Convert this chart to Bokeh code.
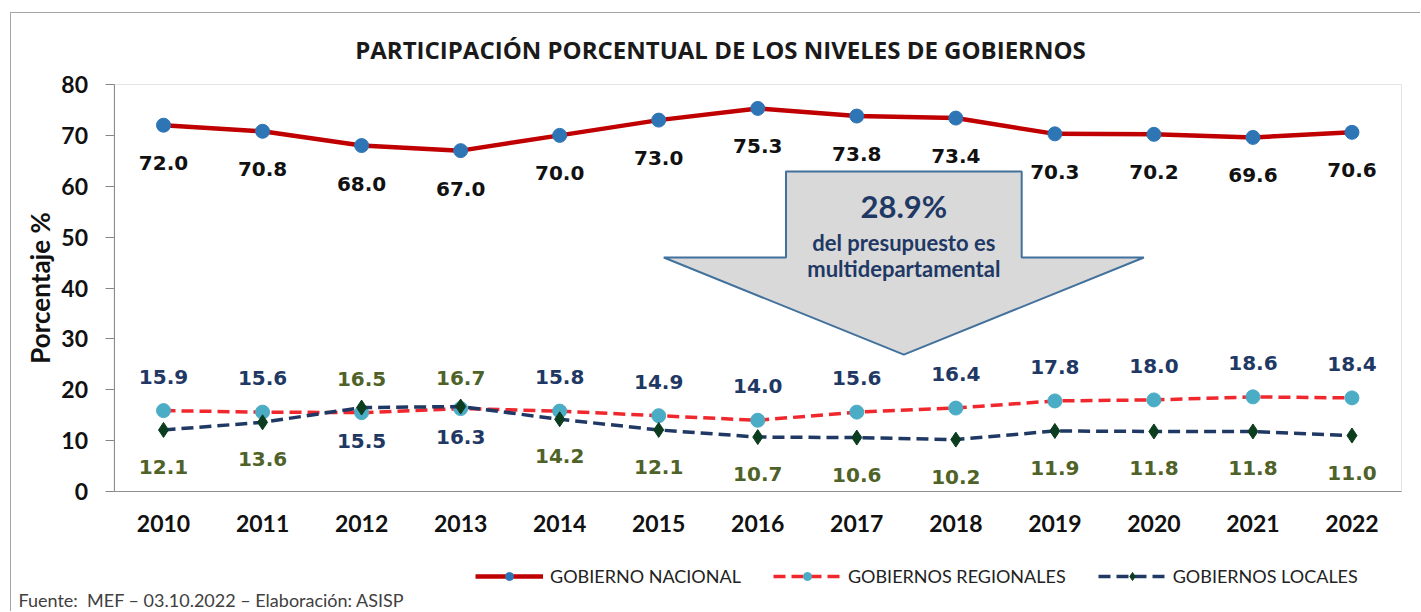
from bokeh.plotting import figure
from bokeh.models import Range1d, FixedTicker, Label, Legend, LegendItem, BoxAnnotation
from bokeh.core.properties import value
from bokeh.embed import file_html
from bokeh.resources import INLINE

# ---------------- data ----------------
years = ["2010", "2011", "2012", "2013", "2014", "2015", "2016",
         "2017", "2018", "2019", "2020", "2021", "2022"]
nacional = [72.0, 70.8, 68.0, 67.0, 70.0, 73.0, 75.3, 73.8, 73.4, 70.3, 70.2, 69.6, 70.6]
regionales = [15.9, 15.6, 15.5, 16.3, 15.8, 14.9, 14.0, 15.6, 16.4, 17.8, 18.0, 18.6, 18.4]
locales = [12.1, 13.6, 16.5, 16.7, 14.2, 12.1, 10.7, 10.6, 10.2, 11.9, 11.8, 11.8, 11.0]
series_names = ["GOBIERNO NACIONAL", "GOBIERNOS REGIONALES", "GOBIERNOS LOCALES"]
y_ticks = [0, 10, 20, 30, 40, 50, 60, 70, 80]
title_text = "PARTICIPACIÓN PORCENTUAL DE LOS NIVELES DE GOBIERNOS"
y_label = "Porcentaje %"
source_text = "Fuente:\u00a0 MEF \u2013 03.10.2022 \u2013 Elaboración: ASISP"
callout_value = "28.9%"
callout_lines = ["del presupuesto es", "multidepartamental"]

# ---------------- layout (pixels inside the canvas) ----------------
W, H = 1410, 599
PLOT_L, PLOT_R = 102.5, 1390.0      # plot-area left / right edge
PLOT_T, PLOT_B = 71.0, 478.0        # plot-area top / bottom edge
Y_MIN, Y_MAX = 0, 80
n = len(years)
X_MIN, X_MAX = -0.5, n - 0.5
px_x = (PLOT_R - PLOT_L) / (X_MAX - X_MIN)
px_y = (PLOT_B - PLOT_T) / (Y_MAX - Y_MIN)
x_range = Range1d(X_MIN - PLOT_L / px_x, X_MAX + (W - PLOT_R) / px_x)
y_range = Range1d(Y_MIN - (H - PLOT_B) / px_y, Y_MAX + PLOT_T / px_y)

def dx(px):  # canvas pixel -> data x
    return X_MIN + (px - PLOT_L) / px_x

def dy(py):  # canvas pixel -> data y
    return Y_MIN + (PLOT_B - py) / px_y

# ---------------- figure ----------------
x = list(range(n))
fmt = lambda v: f"{v:.1f}"

p = figure(width=W, height=H, x_range=x_range, y_range=y_range,
           output_backend="svg", toolbar_location=None, min_border=0)
p.margin = (12, 0, 0, 10)
p.styles = {"border-top": "1px solid #a6a6a6", "border-left": "1px solid #a6a6a6"}
p.background_fill_color = "white"
p.border_fill_color = "white"
p.outline_line_color = None
p.xgrid.grid_line_color = None
p.ygrid.grid_line_color = None

AX_FONT = "Lato"
NUM_FONT = value("DejaVu Sans")

# plot-area box
p.add_layout(BoxAnnotation(left=X_MIN, right=X_MAX, bottom=Y_MIN, top=Y_MAX,
                           fill_alpha=0, line_color="#a6a6a6", line_width=1))

p.yaxis.fixed_location = X_MIN
p.yaxis.bounds = (Y_MIN, Y_MAX)
p.yaxis.ticker = FixedTicker(ticks=y_ticks)
p.yaxis.axis_label = y_label
p.yaxis.axis_label_text_font = AX_FONT
p.yaxis.axis_label_text_font_style = "bold"
p.yaxis.axis_label_text_font_size = "26px"
p.yaxis.axis_label_text_color = "#111111"
p.yaxis.axis_label_standoff = 3
p.yaxis.major_label_text_font = AX_FONT
p.yaxis.major_label_text_font_style = "bold"
p.yaxis.major_label_text_font_size = "23px"
p.yaxis.major_label_text_color = "#111111"
p.yaxis.major_label_standoff = 17
p.yaxis.major_tick_out = 9
p.yaxis.major_tick_in = 0
p.yaxis.minor_tick_line_color = None
p.yaxis.axis_line_color = "#868686"
p.yaxis.major_tick_line_color = "#868686"

p.xaxis.fixed_location = Y_MIN
p.xaxis.bounds = (X_MIN, X_MAX)
p.xaxis.ticker = FixedTicker(ticks=x)
p.xaxis.major_label_overrides = {i: y for i, y in zip(x, years)}
p.xaxis.major_label_text_font = AX_FONT
p.xaxis.major_label_text_font_style = "bold"
p.xaxis.major_label_text_font_size = "23px"
p.xaxis.major_label_text_color = "#111111"
p.xaxis.major_label_standoff = 23
p.xaxis.major_tick_out = 0
p.xaxis.major_tick_in = 0
p.xaxis.minor_tick_line_color = None
p.xaxis.axis_line_color = "#868686"

# ---------------- callout arrow (decorative) ----------------
cx = 7.475
shaft, head = 1.19, 2.424
y_top, y_shoulder, y_tip = 62.9, 46.0, 26.9
arrow_xs = [cx - shaft, cx + shaft, cx + shaft, cx + head, cx, cx - head, cx - shaft]
arrow_ys = [y_top, y_top, y_shoulder, y_shoulder, y_tip, y_shoulder, y_shoulder]
p.patch(arrow_xs, arrow_ys, fill_color="#D9D9D9", line_color="#41719C", line_width=2)

# ---------------- series ----------------
r_nat_l = p.line(x, nacional, line_color="#C00000", line_width=4.5)
r_nat_m = p.scatter(x, nacional, marker="circle", size=14,
                    fill_color="#2E75B6", line_color="#2E75B6")
r_reg_l = p.line(x, regionales, line_color="#F0282D", line_width=3.5, line_dash="12 6")
r_reg_m = p.scatter(x, regionales, marker="circle", size=14,
                    fill_color="#4BACC6", line_color="#4BACC6")
r_loc_l = p.line(x, locales, line_color="#1F3864", line_width=3.5, line_dash="12 6")
r_loc_m = p.scatter(x, locales, marker="diamond", size=15,
                    fill_color="#0B3D1E", line_color="#0B3D1E")

# ---------------- data labels ----------------
def labels(idx, vals, color, offset):
    p.text([x[i] for i in idx], [vals[i] for i in idx], text=[fmt(vals[i]) for i in idx],
           text_align="center", text_baseline="middle", y_offset=offset,
           text_font=NUM_FONT, text_font_style="bold", text_font_size="20px",
           text_color=color)

labels(x, nacional, "#111111", 38)
reg_up = [i for i in x if regionales[i] >= locales[i]]
reg_dn = [i for i in x if regionales[i] < locales[i]]
labels(reg_up, regionales, "#1F3864", -34)
labels(reg_dn, regionales, "#1F3864", 28)
labels(reg_up, locales, "#4F6228", 37)
labels(reg_dn, locales, "#4F6228", -29)

# ---------------- callout texts ----------------
p.add_layout(Label(x=cx, y=56.2, text=callout_value, text_align="center",
                   text_baseline="middle", text_font=AX_FONT, text_font_style="bold",
                   text_font_size="31px", text_color="#1F3864"))
for yy, t in zip([48.9, 43.8], callout_lines):
    p.add_layout(Label(x=cx, y=yy, text=t, text_align="center", text_baseline="middle",
                       text_font=AX_FONT, text_font_style="bold", text_font_size="22px",
                       text_color="#1F3864"))

# ---------------- title & source ----------------
p.add_layout(Label(x=dx(709), y=dy(36), text=title_text, text_align="center",
                   text_baseline="middle", text_font="Open Sans",
                   text_font_style="bold", text_font_size="24px", text_color="#1a1a1a"))
p.add_layout(Label(x=dx(7), y=dy(586), text=source_text, text_align="left",
                   text_baseline="middle", text_font=AX_FONT,
                   text_font_size="18px", text_color="#404040"))

# ---------------- legend ----------------
legend = Legend(items=[
    LegendItem(label=series_names[0], renderers=[r_nat_l, r_nat_m]),
    LegendItem(label=series_names[1], renderers=[r_reg_l, r_reg_m]),
    LegendItem(label=series_names[2], renderers=[r_loc_l, r_loc_m]),
], location=(464, H - 574), orientation="horizontal", glyph_width=68, glyph_height=20,
    label_height=20, label_standoff=7, spacing=32, padding=0, margin=0,
    border_line_color=None, background_fill_alpha=0,
    label_text_font=AX_FONT, label_text_font_size="18px", label_text_color="#222222")
p.add_layout(legend)

open("out.html", "w").write(file_html(p, INLINE))
